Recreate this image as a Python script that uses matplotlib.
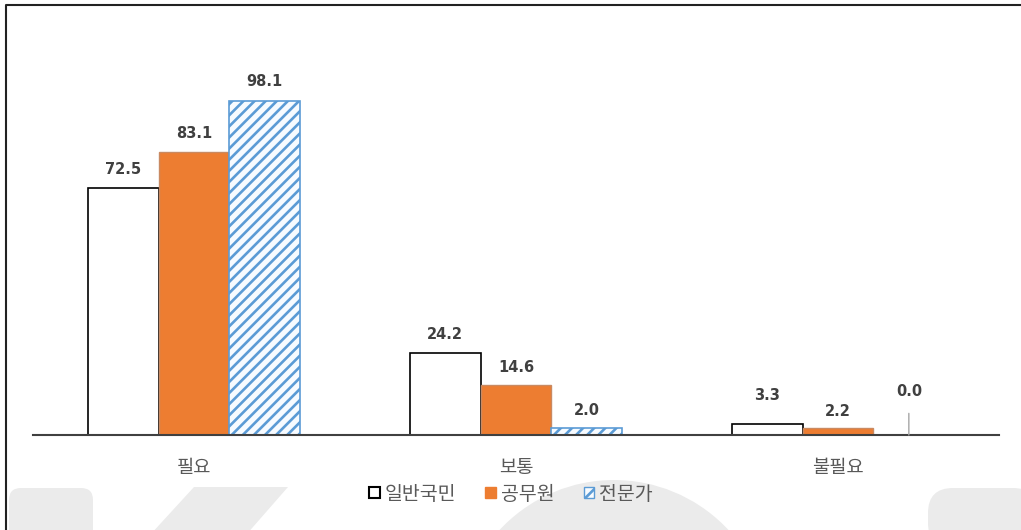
import matplotlib
matplotlib.use("Agg")
import matplotlib.pyplot as plt
from matplotlib.patches import Patch, Circle, FancyBboxPatch, Polygon
import numpy as np

plt.rcParams['font.family'] = ['Noto Sans CJK KR', 'DejaVu Sans']
plt.rcParams['hatch.color'] = '#5b9bd5'
plt.rcParams['hatch.linewidth'] = 1.9

#### DATA ####
categories = ['필요', '보통', '불필요']
series_names = ['일반국민', '공무원', '전문가']
general = [72.5, 24.2, 3.3]
officials = [83.1, 14.6, 2.2]
experts = [98.1, 2.0, 0.0]

#### STYLE ####
W, H = 1021, 530
fig = plt.figure(figsize=(W / 100, H / 100), dpi=100)

# background layer in pixel coordinates: watermark shapes + frame
bgax = fig.add_axes([0, 0, 1, 1], zorder=0)
bgax.set_xlim(0, W)
bgax.set_ylim(H, 0)
bgax.axis('off')
bg = '#ebebeb'
bgax.add_patch(FancyBboxPatch((9, 488), 84, 60, boxstyle="round,pad=0,rounding_size=12", fc=bg, ec='none'))
bgax.add_patch(Polygon([(150, 535), (194, 487), (288, 487), (246, 535)], closed=True, fc=bg, ec='none'))
bgax.add_patch(Circle((614, 636), 156, fc=bg, ec='none'))
bgax.add_patch(FancyBboxPatch((928, 488), 110, 60, boxstyle="round,pad=0,rounding_size=25", fc=bg, ec='none'))
bgax.plot([6, 6, W], [H, 5, 5], color='#222222', lw=1.5, solid_capstyle='butt')

ax = fig.add_axes([33 / W, (H - 435) / H, (999 - 33) / W, (435 - 26) / H], zorder=1)
ax.set_facecolor('none')

x = np.arange(len(categories))
bw = 0.22
b1 = ax.bar(x - bw, general, bw, color='white', edgecolor='black', linewidth=1.2, zorder=2)
b2 = ax.bar(x, officials, bw, color='#ed7d31', edgecolor='#c98a62', linewidth=1, zorder=2)
b3 = ax.bar(x + bw, experts, bw, color='#f7fbff', edgecolor='#5b9bd5', hatch='///', linewidth=1.2, zorder=2)

ax.set_xlim(-0.5, 2.5)
ax.set_ylim(0, 120)

# value labels (pixel offsets above bar tops, as placed in the original)
offsets = [[18, 18, 28], [18, 18, 16], [19, 18, 43]]
lab = dict(ha='center', va='center', fontsize=10.5, fontweight='bold', color='#404040',
           family=['DejaVu Sans'])
for si, (bars, vals) in enumerate(zip([b1, b2, b3], [general, officials, experts])):
    for ci, (rect, v) in enumerate(zip(bars, vals)):
        cx = rect.get_x() + rect.get_width() / 2
        off = offsets[si][ci]
        if v == 0:
            ax.annotate(f"{v:.1f}", xy=(cx, v), xytext=(0, off), textcoords='offset pixels',
                        arrowprops=dict(arrowstyle='-', color='#a6a6a6', lw=1, shrinkA=8, shrinkB=0), **lab)
        else:
            ax.annotate(f"{v:.1f}", xy=(cx, v), xytext=(0, off), textcoords='offset pixels', **lab)

for s in ['top', 'right', 'left']:
    ax.spines[s].set_visible(False)
ax.spines['bottom'].set_color('#404040')
ax.spines['bottom'].set_linewidth(1.5)
ax.set_yticks([])
ax.set_xticks(x)
ax.set_xticklabels(categories, fontsize=13.5, color='#595959')
ax.tick_params(axis='x', length=0, pad=16)

handles = [Patch(facecolor='white', edgecolor='black', linewidth=1.5),
           Patch(facecolor='#ed7d31', edgecolor='#ed7d31'),
           Patch(facecolor='#f7fbff', edgecolor='#5b9bd5', hatch='//')]
leg = fig.legend(handles, series_names, loc='center', bbox_to_anchor=(511 / W, 1 - 494 / H), ncol=3,
                 frameon=False, fontsize=14, labelcolor='#595959', handlelength=0.55, handleheight=0.55,
                 handletextpad=0.25, columnspacing=1.5)
leg.set_zorder(3)

fig.savefig('out.png', dpi=100, facecolor='white')
